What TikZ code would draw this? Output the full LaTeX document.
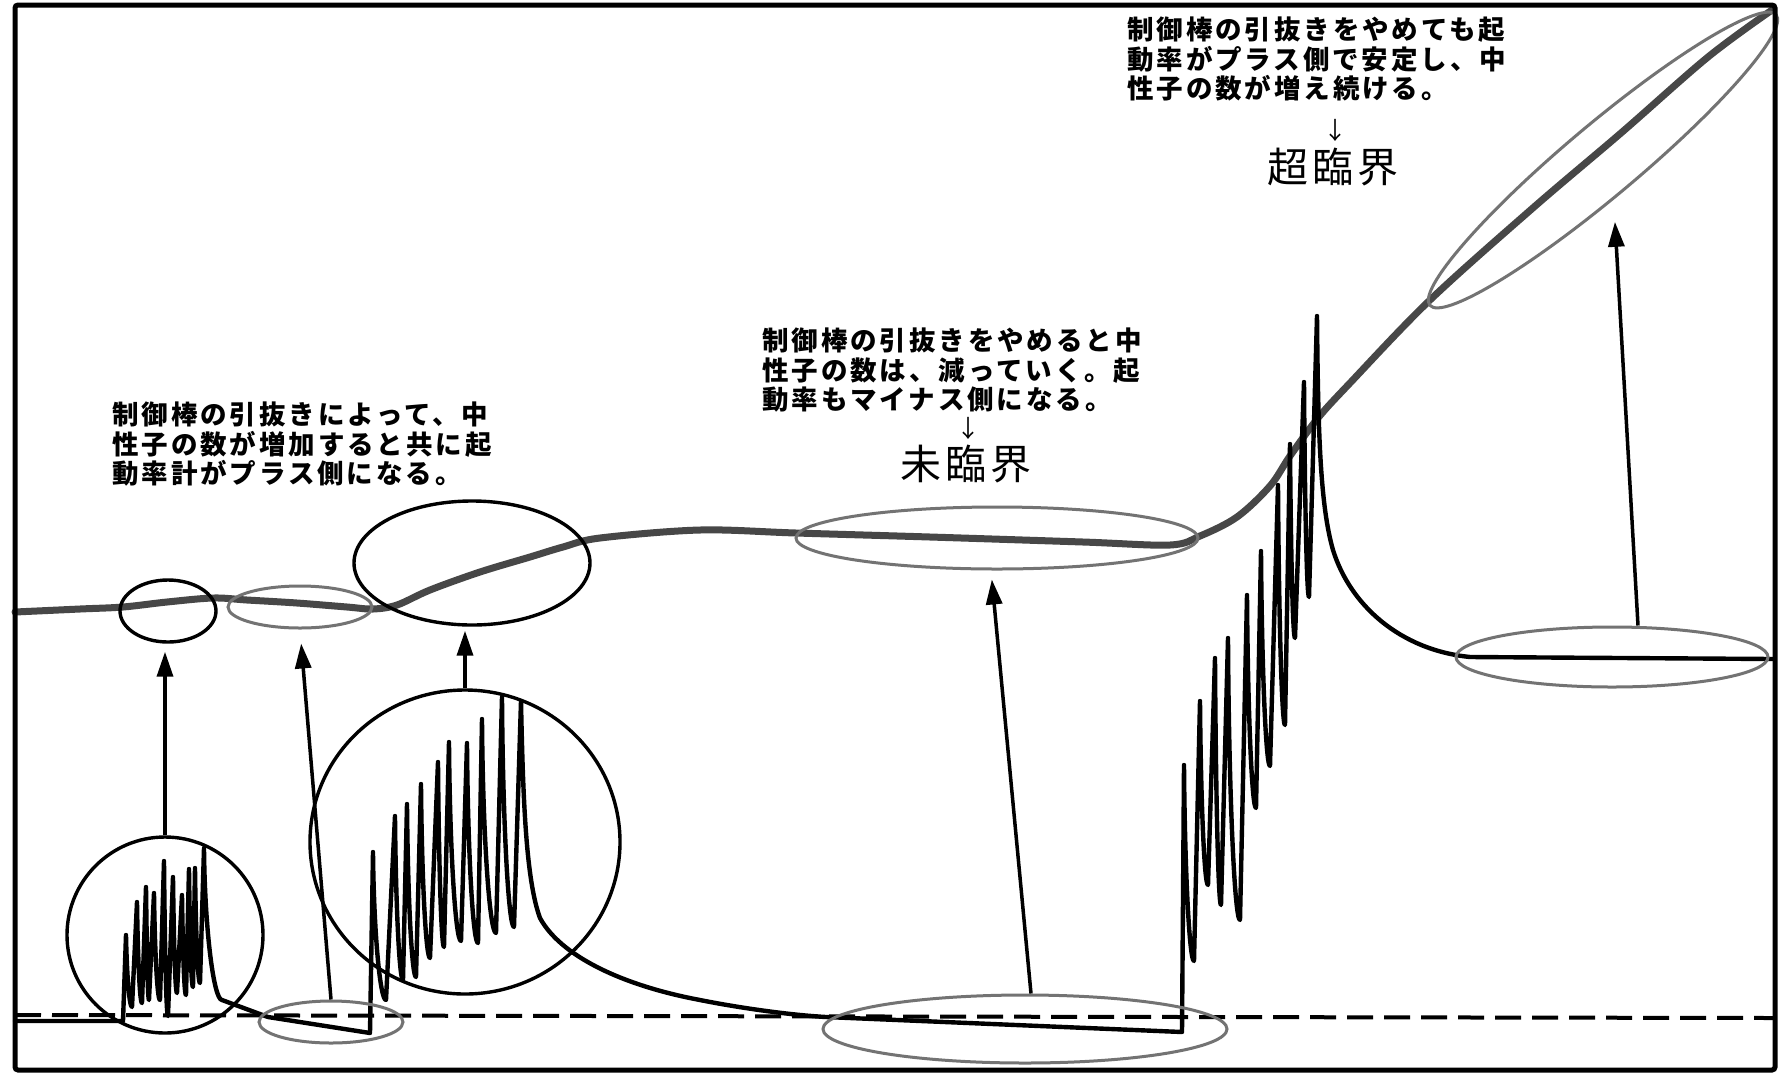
\documentclass[tikz,border=0pt]{standalone}
\usepackage{fontspec}
\newfontfamily\jptext{Noto Sans CJK JP}[LetterSpace=11]
\newfontfamily\jplabel{Noto Sans CJK JP}[LetterSpace=9]
\newfontfamily\jparrow{Noto Sans CJK JP}
\usetikzlibrary{shapes.geometric,arrows.meta}
\begin{document}
\begin{tikzpicture}[x=1pt,y=-1pt,
  borderframe/.style={draw=black, line width=5pt, rounded corners=3pt},
  blackell/.style={ellipse, draw=black, line width=3.4pt, inner sep=0pt},
  grayell/.style={ellipse, draw=black!55, line width=3pt, inner sep=0pt},
  spiketrace/.style={draw=black, line width=4.4pt, line join=round, line cap=round},
  neutron/.style={draw=black!72, line width=7pt, line cap=round, line join=round},
  zeroline/.style={draw=black, line width=4pt, dash pattern=on 26pt off 11pt},
  pointer/.style={draw=black, line width=3.5pt, -{Triangle[length=25pt,width=16pt]}},
  jpnote/.style={font=\jptext\bfseries\fontsize{26.5pt}{29.5pt}\selectfont, align=left, anchor=north west, inner sep=0pt},
  jpstate/.style={font=\jplabel\fontsize{41pt}{44pt}\selectfont, inner sep=0pt},
  jpdown/.style={font=\jparrow\fontsize{24pt}{26pt}\selectfont, inner sep=0pt}
]
\useasboundingbox (0,0) rectangle (1781,1080);
\fill[white] (0,0) rectangle (1781,1080);

% zero line
\draw[zeroline] (15,1015) -- (1773,1018);

% main curve
\draw[neutron] plot[smooth, tension=0.55] coordinates {(15,612) (80,609) (123,607) (167,602) (213,598) (247,600) (297,603) (347,607) (373,609) (397,605) (430,590) (480,572) (530,557) (563,547) (600,538) (700,530) (796,533) (930,537) (1083,542) (1170,545) (1200,536) (1237,517) (1270,486) (1290,456) (1318,418) (1350,383) (1430,300) (1534,207) (1621,133) (1708,57) (1772,10)};

% spike trace
\draw[spiketrace] (15,1021) -- (123,1021)
  foreach \px/\py/\tx/\ty in {126/935/132/1007, 137/902/142/1003, 146/887/149/1000, 154/893/160/1000, 164/861/168/1016, 173/877/177/993, 182/895/186/995, 189/869/193/987, 195/868/200/983, 204/848/222/1000}
  { -- (\px,\py) .. controls +(0.8,{0.55*(\ty-\py)}) and +({-0.45*(\tx-\px)},0) .. (\tx,\ty) }
  -- (268,1017) -- (370,1033)
  foreach \px/\py/\tx/\ty in {373/852/386/1000, 395/816/403/980, 407/804/416/977, 421/784/430/958, 438/762/444/947, 449/742/461/941, 467/743/478/943, 482/719/496/933, 502/697/514/927}
  { -- (\px,\py) .. controls +(0.8,{0.55*(\ty-\py)}) and +({-0.45*(\tx-\px)},0) .. (\tx,\ty) }
  -- (521,701) .. controls (523,800) and (526,880) .. (540,918)
  .. controls (560,955) and (620,985) .. (700,1000)
  .. controls (740,1008) and (790,1015) .. (826,1017) -- (1182,1032)
  foreach \px/\py/\tx/\ty in {1184/765/1194/961, 1200/701/1208/885, 1215/658/1221/905, 1228/638/1240/920, 1247/595/1256/808, 1261/551/1270/766, 1278/485/1285/725, 1290/444/1295/638, 1304/382/1309/597}
  { -- (\px,\py) .. controls +(0.8,{0.55*(\ty-\py)}) and +({-0.45*(\tx-\px)},0) .. (\tx,\ty) }
  -- (1317,316) .. controls (1318,430) and (1320,505) .. (1333,550)
  .. controls (1350,605) and (1400,650) .. (1470,657) -- (1773,659);

% ellipses
\node[blackell, minimum width=96pt, minimum height=62pt] (c1) at (168,611) {};
\node[grayell, minimum width=144pt, minimum height=42pt] (e2) at (300,607) {};
\node[blackell, minimum width=236pt, minimum height=124pt] (e3) at (472,563) {};
\node[grayell, minimum width=402pt, minimum height=62pt] (e4) at (997,538) {};
\node[grayell, minimum width=452pt, minimum height=72pt, rotate=40] (e5) at (1603,160) {};
\node[grayell, minimum width=144pt, minimum height=42pt] (e6) at (331,1022) {};
\node[blackell, minimum width=196pt, minimum height=196pt] (c2) at (165,935) {};
\node[blackell, minimum width=310pt, minimum height=304pt] (c3) at (465,842) {};
\node[grayell, minimum width=404pt, minimum height=68pt] (e8) at (1025,1029) {};
\node[grayell, minimum width=312pt, minimum height=60pt] (e9) at (1612,657) {};

% arrows
\draw[pointer, shorten >=8pt] (c2.north) -- (c2.north |- c1.south);
\draw[pointer, shorten >=14pt] (e6.north) -- (e2.south);
\draw[pointer, shorten >=4pt] (c3.north) -- (c3.north |- e3.south);
\draw[pointer, shorten >=9pt] ([xshift=6pt]e8.north) -- ([xshift=-6pt]e4.south);
\draw[pointer, shorten >=22pt] ([xshift=26pt]e9.north) -- (e5.245);

% texts
\node[jpnote] (t1) at (1127,17) {制御棒の引抜きをやめても起\\動率がプラス側で安定し、中\\性子の数が増え続ける。};
\node[jpdown] (d1) at (1335,130) {↓};
\node[jpstate] (s1) at (1333,167) {超臨界};
\node[jpnote] (t2) at (762,328) {制御棒の引抜きをやめると中\\性子の数は、減っていく。起\\動率もマイナス側になる。};
\node[jpdown] (d2) at (968,428) {↓};
\node[jpstate] (s2) at (966,464) {未臨界};
\node[jpnote] (t3) at (112,402) {制御棒の引抜きによって、中\\性子の数が増加すると共に起\\動率計がプラス側になる。};

% frame
\draw[borderframe] (15,5) rectangle (1775,1070);
\end{tikzpicture}
\end{document}
